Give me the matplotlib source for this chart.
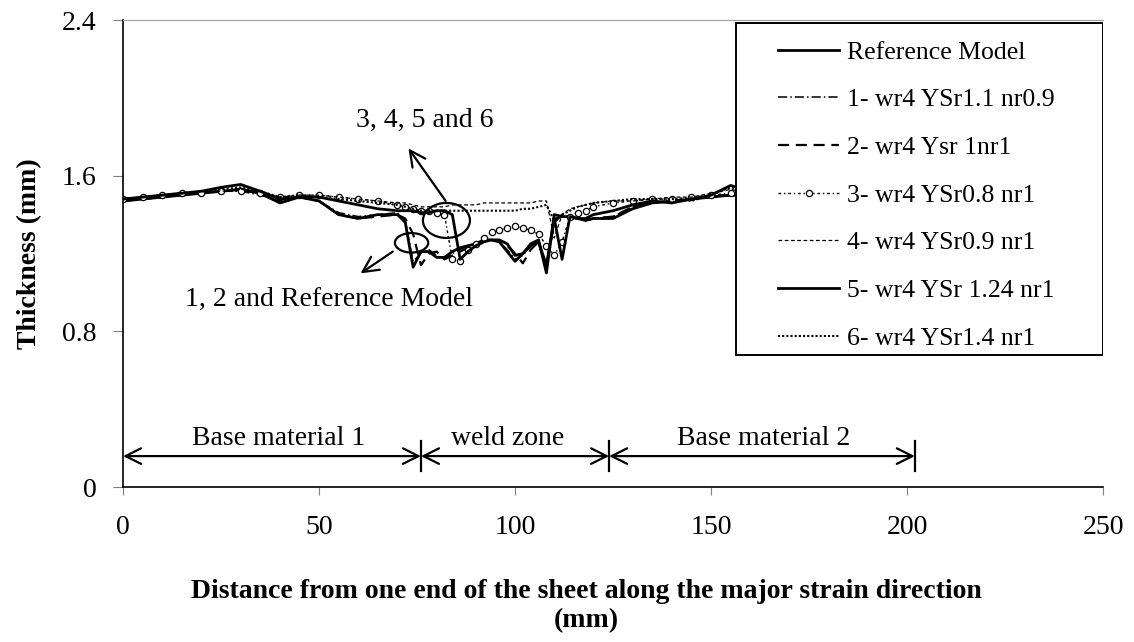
import matplotlib
matplotlib.use("Agg")
import matplotlib.pyplot as plt
from matplotlib.patches import Ellipse, Rectangle

plt.rcParams['font.family'] = ['Liberation Serif', 'DejaVu Serif']

# distance along the sheet (mm)
x = [0, 5, 10, 15, 20, 25, 30, 35, 40, 45, 50, 55, 60, 65, 70, 72, 74, 76, 78, 80,
     82, 84, 86, 88, 90, 92, 94, 96, 98, 100, 102, 104, 106, 108, 110, 112, 114, 116,
     118, 120, 125, 130, 135, 140, 145, 150, 155, 160, 170, 180, 190, 200]

# thickness (mm) for each model
ref = [1.47, 1.48, 1.49, 1.50, 1.51, 1.52, 1.53, 1.51, 1.46, 1.49, 1.47, 1.40, 1.38, 1.40, 1.40, 1.36, 1.13, 1.21, 1.21, 1.18,
       1.18, 1.21, 1.23, 1.24, 1.25, 1.27, 1.27, 1.26, 1.21, 1.16, 1.20, 1.25, 1.27, 1.10, 1.40, 1.39, 1.39, 1.38,
       1.37, 1.38, 1.38, 1.43, 1.46, 1.47, 1.48, 1.49, 1.50, 1.50, 1.49, 1.49, 1.48, 1.48]
m1 = [1.48, 1.49, 1.49, 1.50, 1.51, 1.52, 1.52, 1.50, 1.47, 1.49, 1.47, 1.41, 1.39, 1.40, 1.41, 1.37, 1.16, 1.20, 1.22, 1.19,
      1.17, 1.20, 1.22, 1.24, 1.25, 1.26, 1.27, 1.26, 1.22, 1.17, 1.19, 1.24, 1.26, 1.14, 1.38, 1.39, 1.38, 1.38,
      1.37, 1.38, 1.39, 1.44, 1.46, 1.47, 1.48, 1.49, 1.51, 1.50, 1.49, 1.49, 1.48, 1.48]
m2 = [1.47, 1.48, 1.49, 1.50, 1.51, 1.52, 1.53, 1.51, 1.46, 1.49, 1.47, 1.40, 1.38, 1.39, 1.40, 1.38, 1.30, 1.14, 1.20, 1.21,
      1.17, 1.19, 1.21, 1.23, 1.24, 1.26, 1.27, 1.26, 1.24, 1.20, 1.15, 1.22, 1.26, 1.12, 1.36, 1.40, 1.39, 1.38,
      1.37, 1.38, 1.39, 1.44, 1.46, 1.47, 1.48, 1.49, 1.50, 1.50, 1.49, 1.49, 1.48, 1.48]
m3 = [1.48, 1.49, 1.50, 1.51, 1.51, 1.52, 1.52, 1.51, 1.49, 1.50, 1.50, 1.49, 1.48, 1.47, 1.45, 1.44, 1.43, 1.42, 1.42, 1.41,
      1.40, 1.17, 1.16, 1.22, 1.25, 1.28, 1.31, 1.32, 1.33, 1.34, 1.33, 1.32, 1.30, 1.24, 1.19, 1.26, 1.39, 1.41,
      1.42, 1.44, 1.46, 1.47, 1.48, 1.48, 1.49, 1.50, 1.51, 1.51, 1.50, 1.49, 1.49, 1.49]
m4 = [1.48, 1.49, 1.50, 1.51, 1.52, 1.52, 1.53, 1.52, 1.49, 1.50, 1.50, 1.49, 1.48, 1.47, 1.46, 1.46, 1.45, 1.44, 1.44, 1.44,
      1.44, 1.45, 1.45, 1.45, 1.45, 1.46, 1.46, 1.46, 1.46, 1.46, 1.46, 1.46, 1.47, 1.47, 1.28, 1.40, 1.43, 1.44,
      1.45, 1.46, 1.47, 1.47, 1.48, 1.49, 1.49, 1.51, 1.53, 1.51, 1.50, 1.50, 1.49, 1.49]
m5 = [1.48, 1.49, 1.50, 1.51, 1.52, 1.54, 1.555, 1.52, 1.48, 1.49, 1.49, 1.47, 1.45, 1.43, 1.42, 1.42, 1.42, 1.41, 1.41, 1.42,
      1.42, 1.40, 1.17, 1.21, 1.24, 1.26, 1.27, 1.27, 1.25, 1.19, 1.20, 1.24, 1.26, 1.14, 1.38, 1.17, 1.39, 1.38,
      1.38, 1.40, 1.42, 1.45, 1.47, 1.46, 1.48, 1.50, 1.55, 1.52, 1.50, 1.49, 1.49, 1.48]
m6 = [1.48, 1.49, 1.50, 1.51, 1.52, 1.53, 1.54, 1.52, 1.49, 1.50, 1.49, 1.48, 1.47, 1.46, 1.45, 1.44, 1.43, 1.42, 1.42, 1.42,
      1.42, 1.42, 1.42, 1.42, 1.42, 1.42, 1.42, 1.42, 1.42, 1.42, 1.43, 1.43, 1.44, 1.45, 1.37, 1.40, 1.42, 1.44,
      1.45, 1.46, 1.47, 1.48, 1.48, 1.48, 1.47, 1.50, 1.54, 1.52, 1.50, 1.50, 1.49, 1.49]

labels = ["Reference Model", "1- wr4 YSr1.1 nr0.9", "2- wr4 Ysr 1nr1", "3- wr4 YSr0.8 nr1",
          "4- wr4 YSr0.9 nr1", "5- wr4 YSr 1.24 nr1", "6- wr4 YSr1.4 nr1"]

# zone boundaries (mm)
zones = [0, 76, 124, 202]
zone_names = ["Base material 1", "weld zone", "Base material 2"]
zone_text_x = [39.6, 98.2, 163.5]

fig = plt.figure(figsize=(11.34, 6.42), dpi=100)
ax = fig.add_axes([0.1085, 0.2414, 0.8642, 0.7274])

ax.plot(x, ref, color='black', lw=2.0, ls='-', label=labels[0])
ax.plot(x, m1, color='black', lw=1.1, ls=(0, (6, 2, 1, 2)), label=labels[1])
ax.plot(x, m2, color='black', lw=1.6, ls=(0, (5, 3)), label=labels[2])
ax.plot(x, m3, color='black', lw=1.0, ls=(0, (2, 2, 1, 2)), marker='o', ms=4.5,
        mfc='white', mec='black', mew=0.9, label=labels[3])
ax.plot(x, m4, color='black', lw=0.9, ls=(0, (3, 2)), label=labels[4])
ax.plot(x, m5, color='black', lw=2.0, ls='-', label=labels[5])
ax.plot(x, m6, color='black', lw=1.5, ls=(0, (1, 1)), label=labels[6])

ax.set_xlim(0, 250)
ax.set_ylim(0, 2.4)
ax.set_xticks([0, 50, 100, 150, 200, 250])
ax.set_yticks([0, 0.8, 1.6, 2.4])
ax.set_yticklabels(["0", "0.8", "1.6", "2.4"])
ax.tick_params(axis='both', labelsize=20, direction='out', color='#808080')
ax.tick_params(axis='x', length=6, pad=14)
ax.tick_params(axis='y', length=7, pad=12)
ax.spines['right'].set_visible(False)
ax.spines['top'].set_color('#a0a0a0')
ax.spines['left'].set_linewidth(1.2)
ax.spines['bottom'].set_linewidth(1.2)

# ellipses and arrows marking the groups
ax.add_patch(Ellipse((82.5, 1.37), 12, 0.18, fill=False, lw=1.6, ec='black', zorder=6))
ax.add_patch(Ellipse((73.6, 1.255), 8.5, 0.10, fill=False, lw=1.6, ec='black', zorder=6))
ax.annotate("", xy=(72.4, 1.752), xytext=(82.7, 1.459),
            arrowprops=dict(arrowstyle='->', lw=1.6, mutation_scale=28, color='black'))
ax.annotate("", xy=(60.0, 1.09), xytext=(69.4, 1.218),
            arrowprops=dict(arrowstyle='->', lw=1.6, mutation_scale=28, color='black'))
ax.text(77.0, 1.886, "3, 4, 5 and 6", fontsize=20, ha='center', va='center')
ax.text(52.5, 0.966, "1, 2 and Reference Model", fontsize=20, ha='center', va='center')

# zone arrows
ya = 0.159
for i in range(3):
    ax.annotate("", xy=(zones[i], ya), xytext=(zones[i + 1], ya),
                arrowprops=dict(arrowstyle='<->', lw=1.6, mutation_scale=28, color='black',
                                shrinkA=0, shrinkB=0))
    ax.text(zone_text_x[i], 0.216, zone_names[i], fontsize=20, ha='center', va='baseline')
for z in zones[1:]:
    ax.plot([z, z], [ya - 0.075, ya + 0.075], color='black', lw=1.6)

# legend with square frame
ax.add_patch(Rectangle((0.6255, 0.2827), 0.3745, 0.7109, transform=ax.transAxes,
                       fc='white', ec='black', lw=1.4, zorder=4))
leg = ax.legend(loc='upper left', bbox_to_anchor=(0.655, 0.983), frameon=False,
                fontsize=18.5, borderpad=0, handlelength=2.4, handletextpad=0.3,
                labelspacing=0.96, numpoints=1)
leg.set_zorder(5)

ax.set_ylabel("Thickness (mm)", fontsize=20, fontweight='bold', labelpad=14)
fig.text(586 / 1134, 0.056, "Distance from one end of the sheet along the major strain direction\n(mm)",
         fontsize=20, fontweight='bold', ha='center', va='center', multialignment='center')

fig.savefig("out.png", dpi=100)
